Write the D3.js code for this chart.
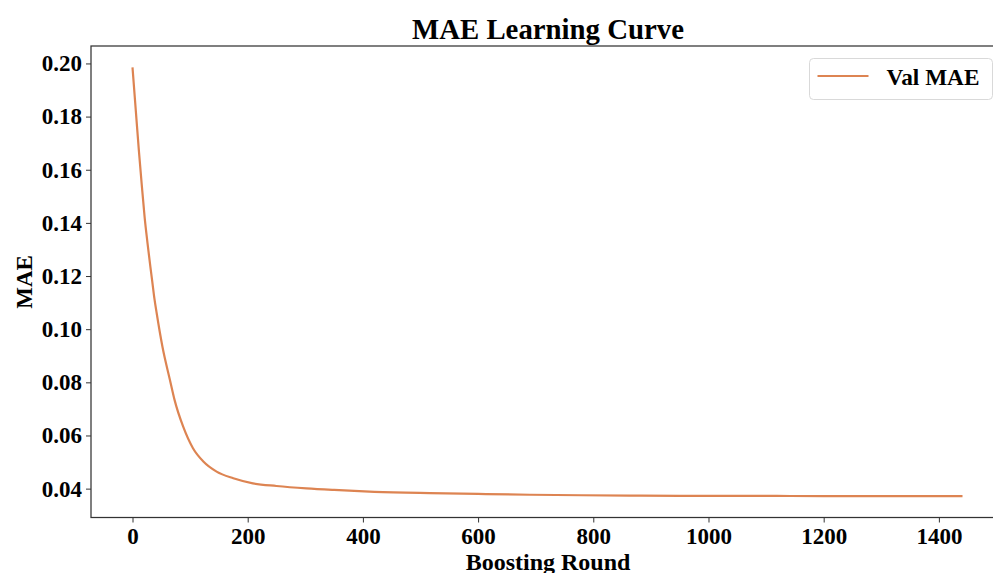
<!DOCTYPE html>
<html>
<head>
<meta charset="utf-8">
<script src="https://d3js.org/d3.v7.min.js"></script>
<style>
  body { margin: 0; background: #fff; }
  text { font-family: "Liberation Serif", "Times New Roman", serif; font-weight: bold; fill: #000; }
</style>
</head>
<body>
<div id="chart"></div>
<script>

var rounds = [0, 6, 11, 16, 21, 26, 31, 34, 38, 42, 52, 65, 73, 88, 105, 123, 146, 175, 209, 250, 302, 350, 420, 516, 600, 690, 780, 863, 950, 1037, 1200, 1441];
var valMae = [0.1985, 0.1815, 0.1674, 0.1545, 0.1423, 0.1325, 0.1235, 0.1185, 0.1116, 0.1060, 0.0934, 0.0809, 0.0734, 0.0633, 0.0552, 0.0502, 0.0464, 0.0439, 0.0420, 0.0410, 0.0401, 0.0395, 0.0388, 0.0383, 0.0380, 0.0377, 0.0375, 0.0374, 0.0373, 0.0373, 0.0372, 0.0372];
var xTicks = [0, 200, 400, 600, 800, 1000, 1200, 1400];
var yTicks = [0.04, 0.06, 0.08, 0.10, 0.12, 0.14, 0.16, 0.18, 0.20];

var fullwidth = 993;
var fullheight = 573;

var margin = { top: 46, right: -11, bottom: 55.5, left: 91 };
var width = fullwidth - margin.left - margin.right;
var height = fullheight - margin.top - margin.bottom;

var lineColor = "#dd8452";
var spineColor = "#333333";

var data = rounds.map(function(r, i) { return { round: r, mae: valMae[i] }; });

var svg = d3.select("#chart")
    .append("svg")
    .attr("width", fullwidth)
    .attr("height", fullheight);

var g = svg.append("g")
    .attr("transform", "translate(" + margin.left + "," + margin.top + ")");

// matplotlib-like 5% padding on both axes
var xExt = d3.extent(rounds);
var xPad = (xExt[1] - xExt[0]) * 0.05;
var yExt = d3.extent(valMae);
var yPad = (yExt[1] - yExt[0]) * 0.05;

var xScale = d3.scaleLinear()
    .domain([xExt[0] - xPad, xExt[1] + xPad])
    .range([0, width]);

var yScale = d3.scaleLinear()
    .domain([yExt[0] - yPad, yExt[1] + yPad])
    .range([height, 0]);

var xAxis = d3.axisBottom(xScale)
    .tickValues(xTicks)
    .tickSize(5)
    .tickPadding(5)
    .tickFormat(d3.format("d"));

var yAxis = d3.axisLeft(yScale)
    .tickValues(yTicks)
    .tickSize(5)
    .tickPadding(4)
    .tickFormat(d3.format(".2f"));

g.append("g")
    .attr("class", "x axis")
    .attr("transform", "translate(0," + height + ")")
    .call(xAxis);

g.append("g")
    .attr("class", "y axis")
    .call(yAxis);

g.selectAll(".axis .domain").remove();
g.selectAll(".axis line")
    .attr("stroke", spineColor)
    .attr("stroke-width", 1);
g.selectAll(".axis text")
    .style("font-size", "23px")
    .style("font-family", "'Liberation Serif', 'Times New Roman', serif")
    .style("font-weight", "bold")
    .attr("fill", "#000");

// spines (frame)
g.append("rect")
    .attr("x", 0)
    .attr("y", 0)
    .attr("width", width)
    .attr("height", height)
    .attr("fill", "none")
    .attr("stroke", spineColor)
    .attr("stroke-width", 1.25);

var line = d3.line()
    .x(function(d) { return xScale(d.round); })
    .y(function(d) { return yScale(d.mae); })
    .curve(d3.curveMonotoneX);

g.append("path")
    .datum(data)
    .attr("d", line)
    .attr("fill", "none")
    .attr("stroke", lineColor)
    .attr("stroke-width", 2.2)
    .attr("stroke-linejoin", "round");

// title
svg.append("text")
    .attr("x", 548)
    .attr("y", 38.5)
    .style("text-anchor", "middle")
    .style("font-size", "28.8px")
    .text("MAE Learning Curve");

// axis labels
svg.append("text")
    .attr("x", 548)
    .attr("y", 569.5)
    .style("text-anchor", "middle")
    .style("font-size", "24px")
    .text("Boosting Round");

svg.append("text")
    .attr("transform", "translate(31.5,282) rotate(-90)")
    .style("text-anchor", "middle")
    .style("font-size", "23px")
    .text("MAE");

// legend
var legend = svg.append("g")
    .attr("class", "legend")
    .attr("transform", "translate(809,58)");

legend.append("rect")
    .attr("x", 0.5)
    .attr("y", 0.5)
    .attr("width", 183)
    .attr("height", 41)
    .attr("rx", 4)
    .attr("fill", "#fff")
    .attr("fill-opacity", 0.8)
    .attr("stroke", "#d9d9d9")
    .attr("stroke-width", 1);

legend.append("line")
    .attr("x1", 8.5)
    .attr("x2", 59.5)
    .attr("y1", 18)
    .attr("y2", 18)
    .attr("stroke", lineColor)
    .attr("stroke-width", 2.2);

legend.append("text")
    .attr("x", 77.5)
    .attr("y", 27)
    .style("font-size", "23.3px")
    .text("Val MAE");

</script>
</body>
</html>
